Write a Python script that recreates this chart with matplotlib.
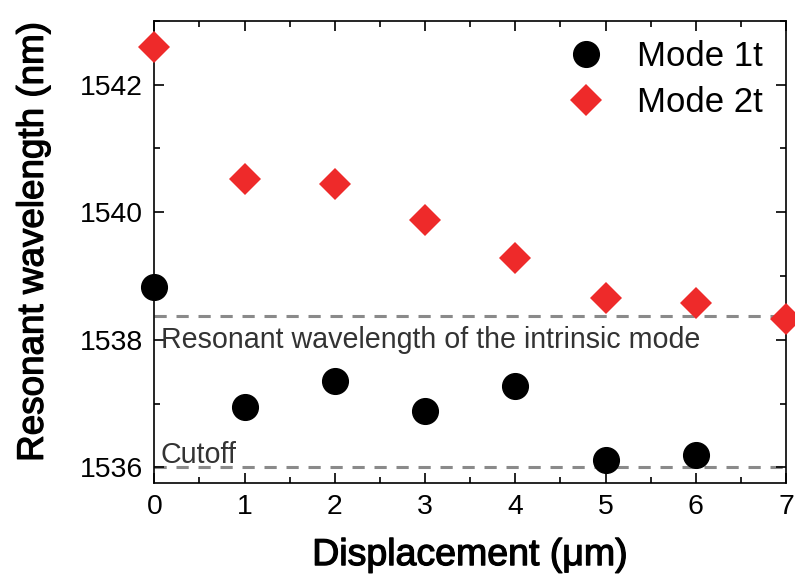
import matplotlib
matplotlib.use("Agg")
import matplotlib.pyplot as plt
import matplotlib.patheffects as pe
from matplotlib.ticker import MultipleLocator

displacement = [0, 1, 2, 3, 4, 5, 6, 7]
mode1_x = [0, 1, 2, 3, 4, 5, 6]
mode1_y = [1538.83, 1536.94, 1537.36, 1536.89, 1537.27, 1536.11, 1536.20]
mode2_x = [0, 1, 2, 3, 4, 5, 6, 7]
mode2_y = [1542.58, 1540.52, 1540.44, 1539.88, 1539.28, 1538.66, 1538.58, 1538.33]
intrinsic_level = 1538.376
cutoff_level = 1536.0

plt.rcParams['font.family'] = ['Liberation Sans', 'DejaVu Sans']

fig = plt.figure(figsize=(7.95, 5.82), dpi=100)
ax = fig.add_axes([154.3/795, 1-483.3/582, (786-154.3)/795, (483.3-20.7)/582])

ax.set_xlim(0, 7)
ax.set_ylim(1535.75, 1543.0)

dash = (0, (4.0, 3.2))
ax.axhline(intrinsic_level, color='#8a8a8a', lw=2.2, ls=dash, zorder=1)
ax.axhline(cutoff_level, color='#8a8a8a', lw=2.2, ls=dash, zorder=1)

ax.plot(mode1_x, mode1_y, 'o', color='black', ms=18.5, ls='none',
        label='Mode 1t', clip_on=False, zorder=3)
ax.plot(mode2_x, mode2_y, 'D', color='#ee2a2a', ms=16.5, ls='none', mew=0,
        label='Mode 2t', clip_on=False, zorder=3)

ax.text(0.07, 1538.0, 'Resonant wavelength of the intrinsic mode', fontsize=20.6,
        color='#333333', va='center', ha='left')
ax.text(0.07, 1536.2, 'Cutoff', fontsize=20.6, color='#333333', va='center', ha='left')

ax.xaxis.set_major_locator(MultipleLocator(1))
ax.xaxis.set_minor_locator(MultipleLocator(0.5))
ax.yaxis.set_major_locator(MultipleLocator(2))
ax.yaxis.set_minor_locator(MultipleLocator(1))
ax.tick_params(which='both', direction='in', top=True, right=True, width=1.2)
ax.tick_params(which='major', length=7, labelsize=20.4, pad=8)
ax.tick_params(which='minor', length=4)
for s in ax.spines.values():
    s.set_linewidth(1.2)

stroke = [pe.withStroke(linewidth=0.9, foreground='black')]
ax.set_xlabel('Displacement (μm)', fontsize=27, labelpad=12, path_effects=stroke)
ax.set_ylabel('Resonant wavelength (nm)', fontsize=26.5, labelpad=21, path_effects=stroke)
ax.yaxis.label.set_y(0.52)

leg = ax.legend(loc='upper right', fontsize=25, frameon=False, handletextpad=0.46,
                borderaxespad=0.3, labelspacing=0.37, markerscale=1.0,
                bbox_to_anchor=(1.001, 1.01))

fig.savefig('out.png', dpi=100)
